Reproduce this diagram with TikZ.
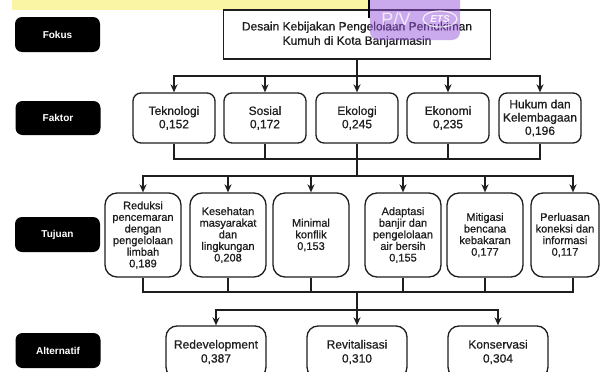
\documentclass[tikz,border=0pt]{standalone}
\usepackage{fontspec}
\setmainfont{Liberation Sans}
\newfontfamily\semib{Liberation Sans}[FakeBold=0.7,BoldFont={Liberation Sans},BoldFeatures={FakeBold=0.7}]
\usetikzlibrary{arrows.meta,shapes.geometric}
\definecolor{hl}{RGB}{250,245,165}
\definecolor{wm}{RGB}{150,85,220}
\definecolor{ink}{RGB}{30,30,30}
\begin{document}
\begin{tikzpicture}[x=1pt,y=-1pt,
  lbl/.style={fill=black, rounded corners=7pt, minimum width=85pt, minimum height=35pt, text=white, font=\fontsize{10}{12}\selectfont\bfseries, inner sep=0pt},
  mainbox/.style={draw=ink, line width=1.3pt, minimum width=267pt, minimum height=49pt, align=center, text=ink, font=\fontsize{12}{14.3}\selectfont\semib\bfseries, inner sep=0pt},
  fbox/.style={draw=ink, line width=1.3pt, rounded corners=8pt, minimum width=82pt, minimum height=50pt, align=center, text=ink, font=\fontsize{12}{13.3}\selectfont\semib\bfseries, inner sep=0pt},
  tbox/.style={draw=ink, line width=1.3pt, rounded corners=12pt, minimum width=76pt, minimum height=84pt, align=center, text=ink, font=\fontsize{11}{11.6}\selectfont\semib\bfseries, inner sep=0pt},
  abox/.style={draw=ink, line width=1.3pt, rounded corners=11pt, minimum width=100pt, minimum height=52pt, align=center, text=ink, font=\fontsize{12}{14}\selectfont\semib\bfseries, inner sep=0pt},
  wire/.style={draw=ink, line width=1.3pt},
  arr/.style={draw=ink, line width=1.3pt, -{Stealth[length=8pt,width=7pt,inset=2.5pt]}},
]
\useasboundingbox (0,0) rectangle (600,372);
\clip (0,0) rectangle (600,372);
\fill[white] (0,0) rectangle (600,372);

% highlighted band at top
\fill[hl] (12,0) rectangle (370,9.5);

% left labels
\node[lbl] (Lf) at (57.5,34.5) {Fokus};
\node[lbl, minimum height=34pt] (Lk) at (58,118) {Faktor};
\node[lbl] (Lt) at (57.5,234.5) {Tujuan};
\node[lbl] (La) at (58,350.5) {Alternatif};

% main box
\node[mainbox] (M) at (357,34.5) {Desain Kebijakan Pengelolaan Pemukiman\\Kumuh di Kota Banjarmasin};

% faktor
\node[fbox] (f1) at (174,118) {Teknologi\\0,152};
\node[fbox] (f2) at (265,118) {Sosial\\0,172};
\node[fbox] (f3) at (357,118) {Ekologi\\0,245};
\node[fbox] (f4) at (448,118) {Ekonomi\\0,235};
\node[fbox] (f5) at (540,118) {Hukum dan\\Kelembagaan\\0,196};

% tujuan
\node[tbox] (t1) at (143,235) {Reduksi\\pencemaran\\dengan\\pengelolaan\\limbah\\0,189};
\node[tbox] (t2) at (228,235) {Kesehatan\\masyarakat\\dan\\lingkungan\\0,208};
\node[tbox] (t3) at (311,235) {Minimal\\konflik\\0,153};
\node[tbox] (t4) at (403,235) {Adaptasi\\banjir dan\\pengelolaan\\air bersih\\0,155};
\node[tbox] (t5) at (485,235) {Mitigasi\\bencana\\kebakaran\\0,177};
\node[tbox, minimum width=68pt] (t6) at (565,235) {Perluasan\\koneksi dan\\informasi\\0,117};

% alternatif
\node[abox] (a1) at (216,352) {Redevelopment\\0,387};
\node[abox] (a2) at (357,352) {Revitalisasi\\0,310};
\node[abox] (a3) at (498,352) {Konservasi\\0,304};

% junctions
\coordinate (b0) at (357,76);
\coordinate (b1) at (357,159);
\coordinate (b2) at (357,176);
\coordinate (b3) at (357,292);
\coordinate (b4) at (357,310);

% connectors main -> faktor
\foreach \f in {f1,f2,f3,f4,f5} \draw[arr] (M.south) -- (b0) -| (\f.north);
% faktor -> bus
\foreach \f in {f1,f2,f3,f4,f5} \draw[wire] (\f.south) |- (b1);
\draw[wire] (b1) -- (b2);
% bus -> tujuan
\foreach \t in {t1,t2,t3,t4,t5} \draw[arr] (b2) -| (\t.north);
\draw[arr] (b2) -| ([xshift=8pt]t6.north);
% tujuan -> bus
\foreach \t in {t1,t2,t3,t4,t5} \draw[wire] (\t.south) |- (b3);
\draw[wire] ([xshift=8pt]t6.south) |- (b3);
\draw[wire] (b3) -- (b4);
% bus -> alternatif
\foreach \a in {a1,a2,a3} \draw[arr] (b4) -| (\a.north);

% vertical mark at top
\coordinate (vm0) at (369,0);
\coordinate (vm1) at (369,18);
\draw[black, line width=1.6pt] (vm0) -- (vm1);

% watermark
\fill[wm, opacity=0.5, rounded corners=8pt] (370,-10) rectangle (460,40);
\node[text=white, opacity=0.75, font=\fontsize{18}{18}\selectfont, inner sep=0pt] (pv) at (396,19) {P/V};
\node[ellipse, draw=white, draw opacity=0.8, line width=1.2pt, text=white, text opacity=0.85, font=\fontsize{10}{10}\selectfont\bfseries\itshape, inner sep=1pt, minimum width=34pt, minimum height=16pt] (ets) at (440,19) {ETS};
\end{tikzpicture}
\end{document}
